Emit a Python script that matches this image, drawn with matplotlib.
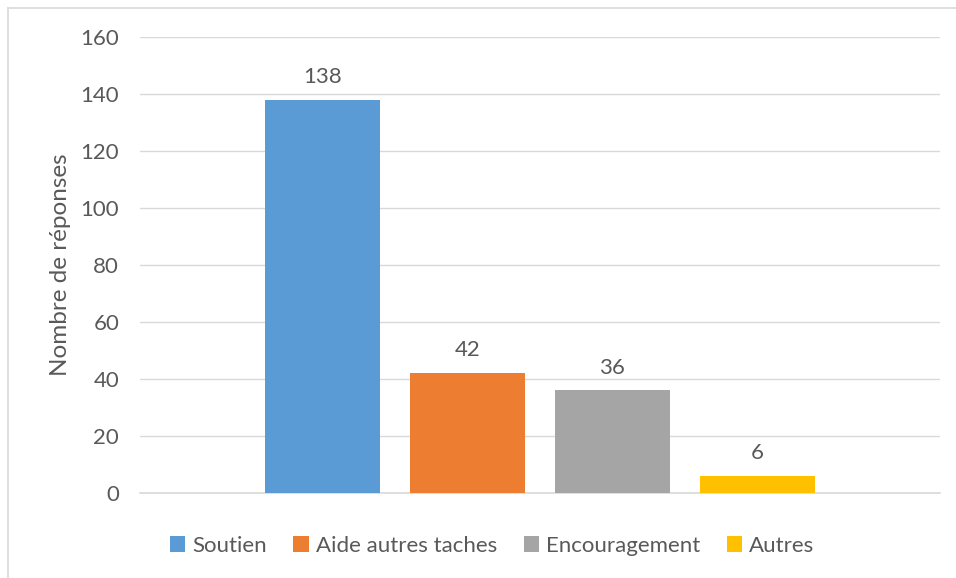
import matplotlib.pyplot as plt
from matplotlib.lines import Line2D

categories = ["Soutien", "Aide autres taches", "Encouragement", "Autres"]
values = [138, 42, 36, 6]
colors = ["#5B9BD5", "#ED7D31", "#A5A5A5", "#FFC000"]
yticks = [0, 20, 40, 60, 80, 100, 120, 140, 160]

plt.rcParams['font.family'] = ['Lato', 'DejaVu Sans']
txt = "#595959"

fig = plt.figure(figsize=(9.56, 5.78), dpi=100)
ax = fig.add_axes([140/956, 85/578, 800/956, 456/578])

step = 0.181
width = 0.144
for i, (cat, v, c) in enumerate(zip(categories, values, colors)):
    x = 0.5 + (i - 1.5) * step
    ax.bar(x, v, width=width, color=c, label=cat, zorder=3)
    ax.text(x, v + 4.5, str(v), ha='center', va='bottom', fontsize=16, color=txt)

ax.set_xlim(0, 1)
ax.set_ylim(0, 160)
ax.set_yticks(yticks)
ax.set_yticklabels([str(t) for t in yticks], fontsize=16, color=txt)
ax.set_xticks([])
ax.tick_params(axis='y', length=0, pad=15)
ax.grid(axis='y', color='#D9D9D9', linewidth=1, zorder=0)
for s in ['top', 'right', 'left']:
    ax.spines[s].set_visible(False)
ax.spines['bottom'].set_color('#D9D9D9')
ax.spines['bottom'].set_linewidth(1.2)
ax.set_ylabel("Nombre de réponses", fontsize=17.5, color=txt, labelpad=7)

leg = fig.legend(loc='center', bbox_to_anchor=(492/956, 1 - 546/578), ncol=4,
                 frameon=False, fontsize=16, handlelength=0.7, handleheight=0.7,
                 handletextpad=0.3, columnspacing=1.2)
for t in leg.get_texts():
    t.set_color(txt)

# chart frame
fig.add_artist(Line2D([8/956, 8/956], [0, 1 - 8/578], transform=fig.transFigure,
                      color='#D9D9D9', linewidth=1.2))
fig.add_artist(Line2D([8/956, 1], [1 - 8/578, 1 - 8/578], transform=fig.transFigure,
                      color='#D9D9D9', linewidth=1.2))

fig.savefig("out.png", dpi=100)
